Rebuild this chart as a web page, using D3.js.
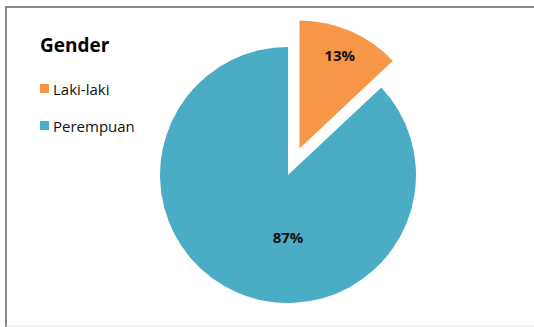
<!DOCTYPE html>
<html>
<head>
<meta charset="utf-8">
<script src="https://cdn.jsdelivr.net/npm/d3@7"></script>
<style>
  html, body { margin: 0; padding: 0; background: #fff; }
</style>
</head>
<body>
<script>
// データ
const categories = ["Laki-laki", "Perempuan"];
const values = [13, 87];
const labels = ["13%", "87%"];
const colors = ["#F79646", "#4BACC6"];

const width = 534, height = 327;
const svg = d3.select("body").append("svg")
  .attr("width", width)
  .attr("height", height)
  .style("font-family", "'Open Sans', sans-serif");

// 枠線
svg.append("rect").attr("x", 0).attr("y", 0).attr("width", width).attr("height", height).attr("fill", "#fff");
svg.append("line").attr("x1", 5).attr("y1", 7).attr("x2", width).attr("y2", 7)
  .attr("stroke", "#888").attr("stroke-width", 2);
svg.append("line").attr("x1", 6).attr("y1", 6).attr("x2", 6).attr("y2", height)
  .attr("stroke", "#888").attr("stroke-width", 2);
svg.append("line").attr("x1", 6).attr("y1", 326).attr("x2", width).attr("y2", 326)
  .attr("stroke", "#e4e4e4").attr("stroke-width", 1);

// タイトル
svg.append("text")
  .attr("x", 40).attr("y", 52)
  .attr("font-size", "19px").attr("font-weight", "bold").attr("fill", "#000")
  .text("Gender");

// 凡例
const legend = svg.append("g");
categories.forEach((c, i) => {
  const y = 84 + i * 37;
  legend.append("rect").attr("x", 40).attr("y", y).attr("width", 9).attr("height", 9).attr("fill", colors[i]);
  legend.append("text").attr("x", 53).attr("y", y + 10.5)
    .attr("font-size", "15px").attr("fill", "#111").text(c);
});

// 円グラフ
const cx = 288, cy = 175, r = 128, explode = 29;
const pie = d3.pie().sort(null).value(d => d)(values);
const arc = d3.arc().innerRadius(0).outerRadius(r);

const slices = svg.append("g").attr("transform", `translate(${cx},${cy})`)
  .selectAll("g").data(pie).join("g")
  .attr("transform", (d, i) => {
    if (i !== 0) return null;
    const a = (d.startAngle + d.endAngle) / 2;
    return `translate(${Math.sin(a) * explode},${-Math.cos(a) * explode})`;
  });

slices.append("path").attr("d", arc).attr("fill", (d, i) => colors[i]);

// ラベル（小さい方は中心角方向、大きい方は真下）
slices.append("text")
  .attr("transform", (d, i) => {
    const a = i === 0 ? (d.startAngle + d.endAngle) / 2 : Math.PI;
    const rr = i === 0 ? r * 0.79 : r * 0.49;
    return `translate(${Math.sin(a) * rr},${-Math.cos(a) * rr})`;
  })
  .attr("text-anchor", "middle").attr("dy", "0.35em")
  .attr("font-size", "15px").attr("font-weight", "bold").attr("fill", "#111")
  .text((d, i) => labels[i]);
</script>
</body>
</html>
